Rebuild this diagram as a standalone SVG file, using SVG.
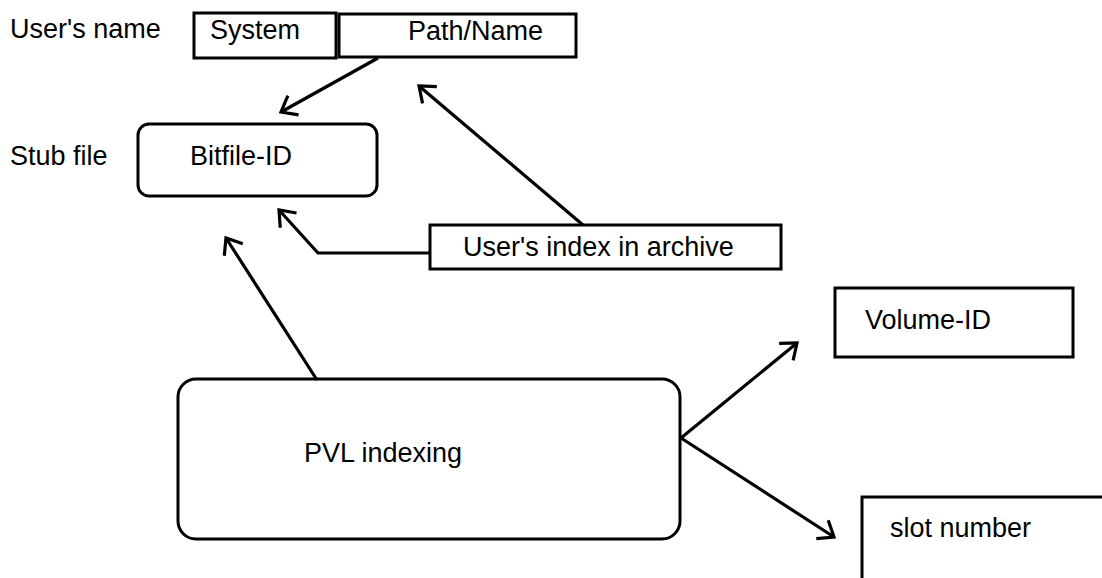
<svg xmlns="http://www.w3.org/2000/svg" width="1102" height="578" viewBox="0 0 1102 578">
  <defs>
    <style>
      text { font-family: "Liberation Sans", Arial, sans-serif; font-size: 27px; fill: #000; }
      .box { fill: #fff; stroke: #000; stroke-width: 3; }
      .link { fill: none; stroke: #000; stroke-width: 3.2; stroke-linejoin: miter; }
    </style>
    <marker id="open" viewBox="-20 -14 24 28" refX="0" refY="0" markerWidth="24" markerHeight="28" markerUnits="userSpaceOnUse" orient="auto">
      <path d="M-14,-11 L0,0 L-14,11" fill="none" stroke="#000" stroke-width="3.2"/>
    </marker>
  </defs>

  <rect width="1102" height="578" fill="#fff"/>

  <!-- side labels -->
  <text x="10" y="38">User's name</text>
  <text x="10" y="165">Stub file</text>

  <g id="system">
    <rect class="box" x="194" y="13" width="142" height="45"/>
    <text x="210" y="39">System</text>
  </g>

  <g id="path-name">
    <rect class="box" x="339" y="14" width="237" height="43"/>
    <text x="408" y="40">Path/Name</text>
  </g>

  <g id="bitfile-id">
    <rect class="box" x="138" y="124" width="239" height="72" rx="11"/>
    <text x="190" y="165">Bitfile-ID</text>
  </g>

  <g id="users-index">
    <rect class="box" x="430" y="225" width="351" height="44"/>
    <text x="463" y="256">User's index in archive</text>
  </g>

  <g id="pvl-indexing">
    <rect class="box" x="178" y="379" width="502" height="160" rx="18"/>
    <text x="304" y="462">PVL indexing</text>
  </g>

  <g id="volume-id">
    <rect class="box" x="835" y="288" width="238" height="69"/>
    <text x="865" y="329">Volume-ID</text>
  </g>

  <g id="slot-number">
    <rect class="box" x="862" y="497" width="260" height="100"/>
    <text x="890" y="537">slot number</text>
  </g>

  <g id="connectors">
    <line class="link" x1="378" y1="58" x2="281" y2="112" marker-end="url(#open)"/>
    <line class="link" x1="583" y1="225" x2="419" y2="86" marker-end="url(#open)"/>
    <polyline class="link" points="430,253 318,253 279,210" marker-end="url(#open)"/>
    <line class="link" x1="317" y1="380" x2="226" y2="238" marker-end="url(#open)"/>
    <line class="link" x1="681" y1="438" x2="797" y2="343" marker-end="url(#open)"/>
    <line class="link" x1="681" y1="438" x2="834" y2="537" marker-end="url(#open)"/>
  </g>
</svg>
